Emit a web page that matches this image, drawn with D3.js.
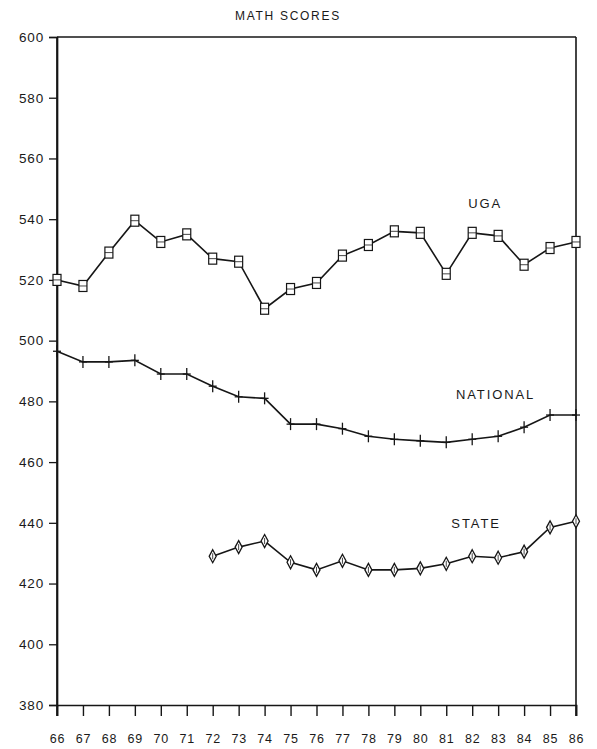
<!DOCTYPE html>
<html>
<head>
<meta charset="utf-8">
<script src="https://cdn.jsdelivr.net/npm/d3@7"></script>
<style>
  html, body { margin: 0; padding: 0; background: #fff; }
  svg text { font-family: "Liberation Sans", Arial, sans-serif; fill: #1a1a1a; }
</style>
</head>
<body>
<svg id="chart" width="597" height="749"></svg>
<script>
const years = [66,67,68,69,70,71,72,73,74,75,76,77,78,79,80,81,82,83,84,85,86];
const yearLabels = ["66","67","68","69","70","71","72","73","74","75","76","77","78","79","80","81","82","83","84","85","86"];
const ugaScores = [520,518,529,539.5,532.5,535,527,526,510.5,517,519,528,531.5,536,535.5,522,535.5,534.5,525,530.5,532.5];
const nationalScores = [496.5,493,493,493.5,489,489,485,481.5,481,472.5,472.5,471,468.5,467.5,467,466.5,467.5,468.5,471.5,475.5,475.5];
const stateYears = [72,73,74,75,76,77,78,79,80,81,82,83,84,85,86];
const stateScores = [429,432,434,427,424.5,427.5,424.5,424.5,425,426.5,429,428.5,430.5,438.5,440.5];
const yTicks = [380,400,420,440,460,480,500,520,540,560,580,600];
const title = "MATH SCORES";
const seriesLabels = [
  {name: "UGA", year: 82.5, value: 543.6},
  {name: "NATIONAL", year: 82.9, value: 480.9},
  {name: "STATE", year: 82.15, value: 438.4}
];

const svg = d3.select("#chart");
const mLeft = 57, mRight = 576, mTop = 37, mBottom = 705;
const x = d3.scaleLinear().domain([66, 86]).range([mLeft, mRight]);
const y = d3.scaleLinear().domain([380, 600]).range([mBottom, mTop]);
const ink = "#161616";

// title
svg.append("text").attr("x", 288).attr("y", 19.5).attr("text-anchor", "middle")
  .attr("font-size", 12).attr("letter-spacing", 1.7).text(title);

// frame top and right
svg.append("line").attr("x1", mLeft).attr("x2", mRight).attr("y1", mTop).attr("y2", mTop)
  .attr("stroke", ink).attr("stroke-width", 1.4);
svg.append("line").attr("x1", mRight).attr("x2", mRight).attr("y1", mTop).attr("y2", mBottom + 11)
  .attr("stroke", ink).attr("stroke-width", 1.6);

// y axis
const yAxis = d3.axisLeft(y).tickValues(yTicks).tickSize(8).tickPadding(5).tickFormat(d3.format("d"));
const gy = svg.append("g").attr("transform", `translate(${mLeft},0)`).call(yAxis);
gy.select(".domain").attr("stroke", ink).attr("stroke-width", 1.7);
gy.selectAll(".tick line").attr("stroke", ink).attr("stroke-width", 1.3);
gy.selectAll(".tick text").attr("font-size", 13.5).attr("letter-spacing", 0.8).attr("fill", "#1a1a1a")
  .style("font-family", "'Liberation Sans', Arial, sans-serif");

// x axis
const xAxis = d3.axisBottom(x).tickValues(years).tickSize(11).tickPadding(18)
  .tickFormat((d, i) => yearLabels[i]);
const gx = svg.append("g").attr("transform", `translate(0,${mBottom})`).call(xAxis);
gx.select(".domain").attr("stroke", ink).attr("stroke-width", 1.7);
gx.selectAll(".tick line").attr("stroke", ink).attr("stroke-width", 1.4);
gx.selectAll(".tick text").attr("font-size", 12.5).attr("letter-spacing", 0.8).attr("fill", "#1a1a1a")
  .style("font-family", "'Liberation Sans', Arial, sans-serif");
svg.append("line").attr("x1", mLeft).attr("x2", mLeft).attr("y1", mTop).attr("y2", mBottom + 11)
  .attr("stroke", ink).attr("stroke-width", 1.7);

const line = d3.line().x(d => x(d[0])).y(d => y(d[1]));

function drawSeries(xs, vs, marker) {
  const pts = xs.map((yr, i) => [yr, vs[i]]);
  svg.append("path").datum(pts).attr("d", line).attr("fill", "none")
    .attr("stroke", ink).attr("stroke-width", 1.6);
  const g = svg.append("g");
  pts.forEach(p => {
    const cx = x(p[0]), cy = y(p[1]);
    if (marker === "square") {
      g.append("rect").attr("x", cx - 4).attr("y", cy - 5.5).attr("width", 8).attr("height", 11)
        .attr("fill", "#fff").attr("stroke", ink).attr("stroke-width", 1.2);
      g.append("line").attr("x1", cx - 4).attr("x2", cx + 4).attr("y1", cy).attr("y2", cy)
        .attr("stroke", ink).attr("stroke-width", 0.8);
    } else if (marker === "plus") {
      g.append("line").attr("x1", cx).attr("x2", cx).attr("y1", cy - 6).attr("y2", cy + 6)
        .attr("stroke", ink).attr("stroke-width", 1.3);
      g.append("line").attr("x1", cx - 4).attr("x2", cx + 4).attr("y1", cy).attr("y2", cy)
        .attr("stroke", ink).attr("stroke-width", 1.3);
    } else {
      g.append("path").attr("d", `M${cx},${cy - 6.5}L${cx + 3.5},${cy}L${cx},${cy + 6.5}L${cx - 3.5},${cy}Z`)
        .attr("fill", "#fff").attr("stroke", ink).attr("stroke-width", 1.3);
      g.append("line").attr("x1", cx).attr("x2", cx).attr("y1", cy - 3).attr("y2", cy + 3)
        .attr("stroke", ink).attr("stroke-width", 0.8);
    }
  });
}

drawSeries(years, ugaScores, "square");
drawSeries(years, nationalScores, "plus");
drawSeries(stateYears, stateScores, "diamond");

seriesLabels.forEach(l => {
  svg.append("text").attr("x", x(l.year)).attr("y", y(l.value)).attr("text-anchor", "middle")
    .attr("font-size", 13).attr("letter-spacing", 1.9).text(l.name);
});
</script>
</body>
</html>
